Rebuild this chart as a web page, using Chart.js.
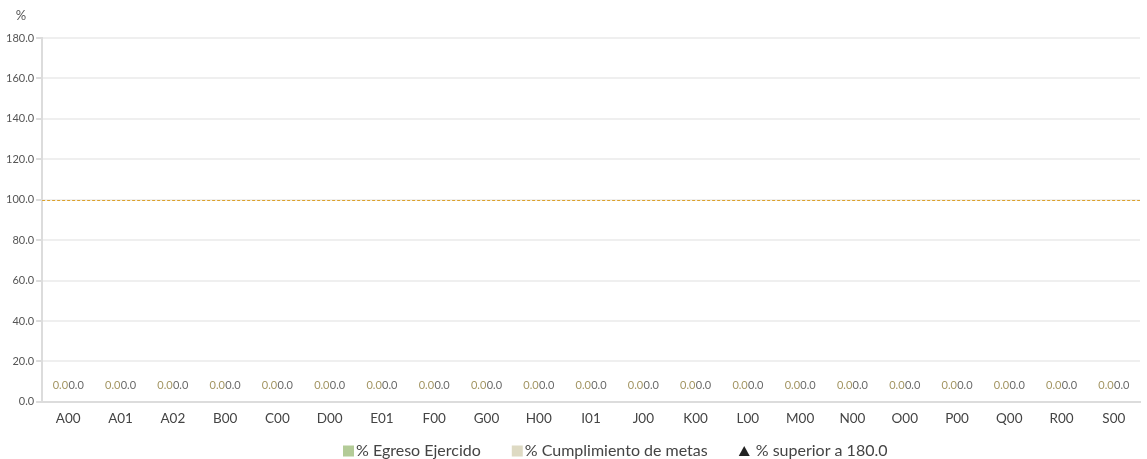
<!DOCTYPE html>
<html>
<head>
<meta charset="utf-8">
<script src="https://cdn.jsdelivr.net/npm/chart.js@4.4.1/dist/chart.umd.min.js"></script>
<style>
  html, body { margin: 0; padding: 0; background: #fff; }
  #wrap { width: 1147px; height: 459px; position: relative; }
</style>
</head>
<body>
<div id="wrap"><canvas id="c" width="1147" height="459"></canvas></div>
<script>
const categories = ['A00','A01','A02','B00','C00','D00','E01','F00','G00','H00','I01','J00','K00','L00','M00','N00','O00','P00','Q00','R00','S00'];
const egresoEjercido = [0,0,0,0,0,0,0,0,0,0,0,0,0,0,0,0,0,0,0,0,0];
const cumplimientoMetas = [0,0,0,0,0,0,0,0,0,0,0,0,0,0,0,0,0,0,0,0,0];
const superiorA180 = [null,null,null,null,null,null,null,null,null,null,null,null,null,null,null,null,null,null,null,null,null];
const yTicks = [0,20,40,60,80,100,120,140,160,180];
const referenceLine = 100;
const yMax = 180;

const FONT = 'Lato, "Open Sans", sans-serif';

const valueLabels = {
  id: 'valueLabels',
  afterDatasetsDraw(chart) {
    const ctx = chart.ctx;
    ctx.save();
    ctx.font = '11px ' + FONT;
    ctx.textAlign = 'center';
    ctx.textBaseline = 'bottom';
    chart.data.datasets.forEach((ds, i) => {
      if (ds.type === 'scatter') return;
      const meta = chart.getDatasetMeta(i);
      meta.data.forEach((el, j) => {
        const v = ds.data[j];
        if (v === null || v === undefined) return;
        ctx.fillStyle = ds.labelColor;
        ctx.fillText(v.toFixed(1), el.x, el.y - 11);
      });
    });
    ctx.restore();
  }
};

const refLine = {
  id: 'refLine',
  beforeDatasetsDraw(chart) {
    const y = chart.scales.y.getPixelForValue(referenceLine);
    const a = chart.chartArea;
    const ctx = chart.ctx;
    ctx.save();
    ctx.strokeStyle = '#dca12a';
    ctx.lineWidth = 1;
    ctx.setLineDash([3, 2]);
    ctx.beginPath();
    ctx.moveTo(a.left, Math.round(y) + 0.5);
    ctx.lineTo(a.right, Math.round(y) + 0.5);
    ctx.stroke();
    ctx.restore();
  }
};

const unitLabel = {
  id: 'unitLabel',
  afterDraw(chart) {
    const ctx = chart.ctx;
    ctx.save();
    ctx.font = '13px ' + FONT;
    ctx.fillStyle = '#555';
    ctx.textAlign = 'center';
    ctx.textBaseline = 'middle';
    ctx.fillText('%', 21, 16);
    ctx.restore();
  }
};

// Legend drawn from the datasets' own labels / styles
const customLegend = {
  id: 'customLegend',
  afterDraw(chart) {
    const ctx = chart.ctx;
    ctx.save();
    ctx.font = '16px ' + FONT;
    ctx.textBaseline = 'middle';
    ctx.textAlign = 'left';
    const box = 11, gapText = 2, gapItem = 31;
    const items = chart.data.datasets.map(ds => ({
      ds, w: box + gapText + (ds.pointStyle === 'triangle' ? 4 : 0) + ctx.measureText(ds.label).width
    }));
    const total = items.reduce((s, it) => s + it.w, 0) + gapItem * (items.length - 1);
    let x = Math.round(chart.width / 2 + 42 - total / 2);
    const yc = 451;
    items.forEach(it => {
      const ds = it.ds;
      ctx.fillStyle = ds.backgroundColor;
      let tx;
      if (ds.pointStyle === 'triangle') {
        ctx.beginPath();
        ctx.moveTo(x + box / 2, yc - 5);
        ctx.lineTo(x + box, yc + 5);
        ctx.lineTo(x, yc + 5);
        ctx.closePath();
        ctx.fill();
        tx = x + box + gapText + 4;
      } else {
        ctx.fillRect(x, yc - 5.5, box, box);
        tx = x + box + gapText;
      }
      ctx.fillStyle = '#444';
      ctx.fillText(ds.label, tx, yc);
      x += it.w + gapItem;
    });
    ctx.restore();
  }
};

new Chart(document.getElementById('c'), {
  type: 'bar',
  data: {
    labels: categories,
    datasets: [
      {
        label: '% Egreso Ejercido',
        data: egresoEjercido,
        backgroundColor: '#b3cb97',
        labelColor: '#a39562',
        pointStyle: 'rect',
        categoryPercentage: 0.6,
        barPercentage: 1.0
      },
      {
        label: '% Cumplimiento de metas',
        data: cumplimientoMetas,
        backgroundColor: '#dedac3',
        labelColor: '#6a6a6a',
        pointStyle: 'rect',
        categoryPercentage: 0.6,
        barPercentage: 1.0
      },
      {
        type: 'scatter',
        label: '% superior a 180.0',
        data: superiorA180,
        backgroundColor: '#222',
        borderColor: '#222',
        pointStyle: 'triangle',
        pointRadius: 6
      }
    ]
  },
  options: {
    responsive: false,
    animation: false,
    layout: { padding: { top: 38, right: 1, left: 4, bottom: 23 } },
    scales: {
      x: {
        type: 'category',
        grid: { display: false, drawTicks: false },
        border: { color: '#dcdcdc', width: 2 },
        ticks: { color: '#444', font: { family: FONT, size: 13.5 }, padding: 9, maxRotation: 0, autoSkip: false }
      },
      y: {
        min: 0,
        max: yMax,
        afterBuildTicks(scale) { scale.ticks = yTicks.map(v => ({ value: v })); },
        grid: { color: '#efefef', lineWidth: 2, tickLength: 6, tickColor: '#dcdcdc' },
        border: { color: '#dcdcdc', width: 2 },
        ticks: {
          color: '#555',
          font: { family: FONT, size: 11 },
          padding: 2,
          callback: v => Number(v).toFixed(1)
        }
      }
    },
    plugins: {
      legend: { display: false },
      tooltip: { enabled: false }
    }
  },
  plugins: [refLine, valueLabels, unitLabel, customLegend]
});
</script>
</body>
</html>
